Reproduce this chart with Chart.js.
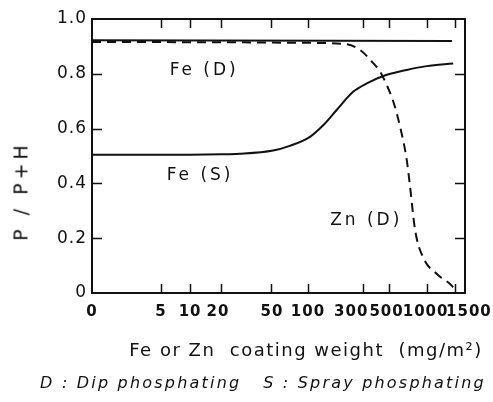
<!DOCTYPE html>
<html>
<head>
<meta charset="utf-8">
<script src="https://cdn.jsdelivr.net/npm/chart.js"></script>
<style>
  body { margin: 0; background: #fff; }
  .wrap { position: relative; width: 493px; height: 402px; font-family: "DejaVu Sans", sans-serif; color: #111; }
  .txt { position: absolute; white-space: pre; line-height: 1; }
  #ytitle { left: 21px; top: 191px; font-size: 19px; transform: translate(-50%, -50%) rotate(-90deg); letter-spacing: 4px; }
  #xtitle { left: 306px; top: 350px; font-size: 18px; transform: translate(-50%, -50%); letter-spacing: 1.5px; }
  #note { left: 263px; top: 383px; font-size: 16px; font-style: italic; transform: translate(-50%, -50%); letter-spacing: 2.2px; }
</style>
</head>
<body>
<div class="wrap">
  <canvas id="chart" width="493" height="402"></canvas>
  <div class="txt" id="ytitle">P / P+H</div>
  <div class="txt" id="xtitle">Fe or Zn  coating weight  (mg/m²)</div>
  <div class="txt" id="note">D : Dip phosphating   S : Spray phosphating</div>
</div>

<script>
  // x axis of the original is hand drawn (not a true log scale):
  // tick values and where they sit along the axis (0..100 % of its width)
  var tickValues = [0, 5, 10, 20, 50, 100, 300, 500, 1000, 1500];
  var tickPositions = [0, 18.5, 26.3, 34.6, 48.0, 57.9, 72.7, 79.5, 89.7, 97.3];
  var axisEndValue = 1730;
  var yTicks = [0, 0.2, 0.4, 0.6, 0.8, 1.0];

  // coating weight (mg/m2) -> P/(P+H)
  var feDWeight = [0, 1440];
  var feDRatio = [0.922, 0.92];

  var feSWeight = [0, 5, 10, 20, 28, 52, 71, 104, 136, 177, 247, 323, 450, 697, 1000, 1464];
  var feSRatio = [0.505, 0.505, 0.505, 0.506, 0.508, 0.52, 0.537, 0.57, 0.613, 0.668, 0.735, 0.765, 0.792, 0.814, 0.828, 0.838];

  var znDWeight = [0, 5, 10, 20, 50, 100, 217, 282, 369, 422, 482, 546, 617, 697, 740, 811, 938, 1177, 1438, 1520];
  var znDRatio = [0.916, 0.916, 0.915, 0.915, 0.914, 0.913, 0.908, 0.887, 0.838, 0.808, 0.759, 0.698, 0.607, 0.485, 0.388, 0.23, 0.13, 0.066, 0.026, 0.006];

  var curveNames = ["Fe (D)", "Fe (S)", "Zn (D)"];
  var nameWeight = [13.7, 12.5, 319];
  var nameRatio = [0.81, 0.427, 0.263];

  // the crowded labels at the right end are nudged apart like in the original
  var tickLabelShift = [0, 0, 0, -3, 1, 0, -12, -2, -1, 14];

  var axisValues = tickValues.concat([axisEndValue]);
  var axisPositions = tickPositions.concat([100]);

  // weight -> position on the drawn axis (linear below 5, log between ticks)
  function toAxis(w) {
    for (var i = 1; i < axisValues.length; i++) {
      if (w <= axisValues[i]) {
        var a = axisValues[i - 1], b = axisValues[i];
        var f = i === 1 ? (w - a) / (b - a) : Math.log(w / a) / Math.log(b / a);
        return axisPositions[i - 1] + f * (axisPositions[i] - axisPositions[i - 1]);
      }
    }
    return 100;
  }

  function pts(ws, rs) {
    return ws.map(function (w, i) {
      return { x: toAxis(w), y: rs[i] };
    });
  }

  var font = "'DejaVu Sans', sans-serif";

  // frame on four sides with inward ticks, plus the curve names
  var framePlugin = {
    id: "frame",
    afterLayout: function (chart) {
      var items = chart.scales.x.getLabelItems(chart.chartArea);
      items.forEach(function (it, i) {
        it.options.translation[0] += tickLabelShift[i] || 0;
      });
    },
    beforeDraw: function (chart) {
      chart.ctx.letterSpacing = "1px";
    },
    afterDraw: function (chart) {
      var ctx = chart.ctx, a = chart.chartArea;
      var sx = chart.scales.x, sy = chart.scales.y;
      ctx.save();
      ctx.strokeStyle = "#111";
      ctx.lineWidth = 2;
      ctx.strokeRect(a.left, a.top, a.right - a.left, a.bottom - a.top);
      ctx.beginPath();
      tickPositions.forEach(function (p, i) {
        if (i === 0) return;
        var px = Math.round(sx.getPixelForValue(p)) + 0.5;
        ctx.moveTo(px, a.bottom);
        ctx.lineTo(px, a.bottom - 9);
        ctx.moveTo(px, a.top);
        ctx.lineTo(px, a.top + 9);
      });
      yTicks.forEach(function (v) {
        if (v === 0 || v === 1) return;
        var py = Math.round(sy.getPixelForValue(v)) + 0.5;
        ctx.moveTo(a.left, py);
        ctx.lineTo(a.left + 10, py);
        ctx.moveTo(a.right, py);
        ctx.lineTo(a.right - 10, py);
      });
      ctx.lineWidth = 1.5;
      ctx.stroke();

      ctx.fillStyle = "#111";
      ctx.font = "17px " + font;
      ctx.letterSpacing = "3px";
      ctx.textAlign = "center";
      ctx.textBaseline = "middle";
      curveNames.forEach(function (n, i) {
        ctx.fillText(n, sx.getPixelForValue(toAxis(nameWeight[i])), sy.getPixelForValue(nameRatio[i]));
      });
      ctx.restore();
    },
  };

  var line = {
    borderColor: "#111",
    borderWidth: 2,
    pointRadius: 0,
    fill: false,
    cubicInterpolationMode: "monotone",
  };

  new Chart(document.getElementById("chart"), {
    type: "line",
    data: {
      datasets: [
        Object.assign({ label: curveNames[0], data: pts(feDWeight, feDRatio) }, line),
        Object.assign({ label: curveNames[1], data: pts(feSWeight, feSRatio) }, line),
        Object.assign({ label: curveNames[2], data: pts(znDWeight, znDRatio), borderDash: [9, 6] }, line),
      ],
    },
    options: {
      responsive: false,
      animation: false,
      layout: { padding: { left: 0, right: 28, top: 19, bottom: 0 } },
      plugins: { legend: { display: false }, tooltip: { enabled: false } },
      scales: {
        x: {
          type: "linear",
          min: 0,
          max: 100,
          grid: { display: false, drawTicks: false },
          border: { display: false },
          afterFit: function (s) { s.height = 109; },
          afterBuildTicks: function (s) {
            s.ticks = tickPositions.map(function (p) { return { value: p }; });
          },
          ticks: {
            autoSkip: false,
            maxRotation: 0,
            padding: 10,
            color: "#111",
            font: { family: font, size: 15, weight: "bold" },
            callback: function (v, i) { return String(tickValues[i]); },
          },
        },
        y: {
          min: 0,
          max: 1,
          grid: { display: false, drawTicks: false },
          border: { display: false },
          afterFit: function (s) { s.width = 92; },
          afterBuildTicks: function (s) {
            s.ticks = yTicks.map(function (v) { return { value: v }; });
          },
          ticks: {
            padding: 5,
            color: "#111",
            font: { family: font, size: 17 },
            callback: function (v) { return v === 0 ? "0" : v.toFixed(1); },
          },
        },
      },
    },
    plugins: [framePlugin],
  });
</script>
</body>
</html>
